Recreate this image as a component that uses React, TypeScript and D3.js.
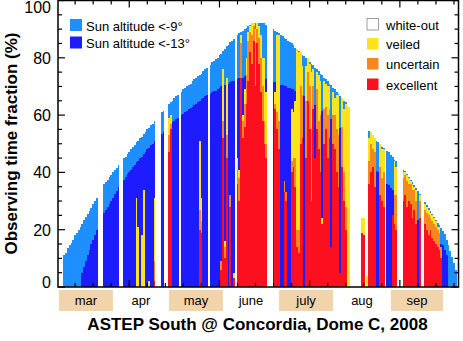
import React from 'react';
import * as d3 from 'd3';

const width = 463;
const height = 341;

// daily fraction (%) of time with the sun below -9 deg and -13 deg, from day 64
const firstDay = 64;
const sunBelow9 = [
  11, 12, 13.5, 14.5, 15.5, 16.5, 18, 19, 20, 21,
  22, 23.5, 24.5, 25.5, 26.5, 27.5, 29, 30, 31, 32.5,
  33.5, 34.5, 36, 36.5, 37.5, 38.5, 39, 40, 41, 41.5,
  42.5, 43, 44, 45, 45.5, 46.5, 47, 48, 49, 49.5,
  50.5, 51, 52, 52.5, 53.5, 54, 55, 55.5, 56.5, 57,
  58, 58.5, 59.5, 60, 61, 61.5, 62.5, 63, 64, 64.5,
  65, 66, 66.5, 67, 67.5, 68, 69, 69.5, 70, 70.5,
  71, 72, 72.5, 73, 73.5, 74, 74.5, 75.5, 76, 76.5,
  77, 77.5, 78.5, 79, 79.5, 80, 81, 81.5, 82.5, 83,
  84, 84.5, 85.5, 86, 86.5, 87, 88, 88.5, 89, 89.5,
  90, 90.5, 91, 91.5, 92, 92, 92, 92, 92, 92,
  92, 92, 91.5, 91.5, 91, 90.5, 90, 89.5, 89, 88.5,
  88, 87.5, 87, 86.5, 86, 85.5, 85, 84.5, 83.5, 83,
  82.5, 82, 81, 80.5, 80, 79.5, 78.5, 78, 77.5, 76.5,
  76, 75.5, 74.5, 74, 73, 72.5, 72, 71, 70.5, 69.5,
  69, 68, 67.5, 66.5, 66, 65, 64.5, 63.5, 63, 62,
  61.5, 60.5, 60, 59, 58, 57.5, 56.5, 56, 55, 54.5,
  54, 53, 52, 51, 50.5, 50, 49, 48.5, 48, 47.5,
  47, 46, 45.5, 44.5, 44, 43, 42.5, 42, 41, 40.5,
  39.5, 38.5, 37.5, 36.5, 35.5, 34.5, 33.5, 32.5, 31.5, 30.5,
  29.5, 28.5, 27.5, 26.5, 25.5, 24.5, 23.5, 22.5, 21.5, 20.5,
  19.5, 18.5, 16.5, 14.5, 12.5, 10.5, 8.5, 6
];
const sunBelow13 = [
  0, 0, 0, 0, 0, 0, 0, 0, 0, 0,
  5, 7, 9, 11, 13, 15, 16.5, 18, 20, 21.5,
  23, 24.5, 26, 27, 28, 29, 30, 31, 32.5, 33.5,
  35, 36, 37, 37.5, 38.5, 39.5, 40, 41, 42, 42.5,
  43.5, 44, 45, 45.5, 46.5, 47, 48, 48.5, 49.5, 50,
  51, 51.5, 52, 53, 53.5, 54, 55, 55.5, 56, 56.5,
  57.5, 58, 58.5, 59, 59.5, 60, 60.5, 61, 61.5, 62,
  62.5, 63, 63.5, 64, 64.5, 65, 65.5, 66, 66.5, 67,
  67, 67.5, 68, 68.5, 68.5, 69, 69.5, 70, 70, 70.5,
  71, 71, 71.5, 72, 72, 72.5, 72.5, 73, 73, 73,
  73.5, 73.5, 73.5, 73.5, 73.5, 73.5, 73.5, 73.5, 73.5, 73,
  73, 73, 72.5, 72.5, 72, 72, 71.5, 71.5, 71, 71,
  70.5, 70.5, 70, 70, 69.5, 69.5, 69, 69, 68.5, 68.5,
  68, 67.5, 67, 66.5, 66, 65.5, 65, 64.5, 64, 63.5,
  63, 62.5, 62, 61.5, 61, 60.5, 60, 59, 58.5, 58,
  57.5, 56.5, 56, 55.5, 54.5, 54, 53, 52.5, 52, 51,
  50.5, 49.5, 49, 48, 47.5, 46.5, 46, 45, 44.5, 43.5,
  43, 42, 41.5, 40.5, 40, 39, 38.5, 37.5, 37, 36,
  35.5, 34.5, 34, 33, 32.5, 31.5, 31, 30, 29.5, 28.5,
  28, 27, 26.5, 25.5, 25, 24, 23.5, 22.5, 22, 21,
  20.5, 19.5, 19, 18, 17.5, 17, 16.5, 16, 15.5, 15,
  14.5, 13, 11, 0, 0, 0, 0, 0
];

// sky quality per night (%), from day 80
const obsFirstDay = 80;
const excellent = [
  0, 0, 0, 0, 0, 0, 0, 0, 0, 0,
  0, 0, 0, 0, 0, 0, 0, 0, 0, 0,
  0, 0, 0, 0, 0, 0, 0, 0, 0, 0,
  0, 0, 0, 0, 2, 0, 0, 0, 0, 0,
  0, 0, 47, 55, 0, 0, 0, 0, 0, 0,
  0, 0, 0, 0, 0, 0, 0, 0, 0, 20,
  19, 0, 0, 0, 0, 0, 0, 0, 0, 0,
  0, 6, 52, 10, 45, 0, 28, 0, 3, 0,
  36, 30, 73, 52, 56, 64, 72, 82, 78, 86,
  70, 85, 78, 68, 58, 50, 45, 0, 0, 0,
  0, 62, 55, 48, 0, 0, 33, 30, 0, 0,
  40, 42, 35, 14, 12, 50, 52, 0, 45, 65,
  55, 30, 62, 45, 55, 48, 40, 22, 50, 55,
  45, 52, 14, 50, 48, 40, 35, 5, 42, 30,
  20, 0, 0, 0, 0, 0, 0, 0, 0, 19,
  18, 0, 0, 36, 40, 42, 35, 0, 0, 32,
  30, 28, 0, 0, 0, 0, 25, 22, 20, 0,
  0, 0, 30, 32, 28, 30, 29, 24, 27, 22,
  0, 24, 0, 0, 22, 20, 18, 20, 17, 16,
  15, 14, 13, 10, 0, 0, 0, 0, 0, 0,
  0, 0
];
const uncertain = [
  0, 0, 0, 0, 0, 0, 0, 0, 0, 0,
  0, 0, 0, 0, 0, 0, 0, 0, 0, 0,
  0, 0, 0, 0, 0, 0, 0, 0, 0, 0,
  0, 0, 0, 0, 7, 0, 0, 0, 0, 0,
  0, 0, 6, 2, 0, 0, 0, 0, 0, 0,
  0, 0, 0, 0, 0, 0, 0, 0, 0, 7,
  4, 0, 0, 0, 0, 0, 0, 0, 0, 0,
  0, 3, 6, 4, 8, 0, 4, 0, 0, 0,
  5, 8, 12, 6, 8, 10, 14, 7, 10, 5,
  15, 5, 9, 12, 12, 8, 5, 0, 0, 0,
  0, 2, 6, 10, 0, 0, 4, 3, 0, 0,
  4, 3, 10, 6, 8, 20, 15, 0, 20, 10,
  15, 25, 8, 0, 14, 10, 20, 0, 12, 8,
  15, 10, 0, 10, 12, 15, 18, 0, 14, 10,
  8, 0, 0, 0, 0, 0, 0, 0, 0, 0,
  0, 0, 0, 8, 10, 6, 12, 0, 0, 10,
  8, 12, 0, 0, 0, 0, 0, 10, 12, 0,
  0, 0, 8, 7, 9, 6, 7, 10, 7, 8,
  0, 6, 0, 0, 5, 6, 7, 4, 6, 6,
  6, 6, 6, 4, 0, 0, 0, 0, 0, 0,
  0, 0
];
const veiled = [
  0, 0, 0, 0, 0, 0, 0, 0, 0, 0,
  0, 0, 0, 0, 0, 0, 0, 0, 0, 0,
  0, 0, 0, 0, 31, 21, 0, 18, 34, 0,
  0, 2, 0, 0, 22, 0, 0, 0, 0, 0,
  0, 0, 6, 3, 0, 0, 0, 0, 0, 0,
  0, 0, 0, 0, 0, 0, 0, 0, 0, 24,
  8, 0, 0, 0, 0, 0, 0, 0, 0, 0,
  0, 0, 18, 2, 20, 0, 0, 0, 2, 0,
  4, 3, 3, 2, 5, 6, 3, 2, 4, 1,
  5, 2, 4, 8, 10, 22, 18, 0, 0, 0,
  0, 4, 27, 30, 0, 0, 0, 0, 0, 0,
  18, 16, 20, 63, 62, 12, 10, 0, 12, 5,
  8, 20, 6, 0, 6, 16, 12, 2, 10, 8,
  10, 8, 0, 8, 6, 12, 14, 0, 10, 22,
  36, 63.5, 63, 0, 0, 0, 0, 0, 0, 5,
  6, 0, 4, 8, 4, 5, 5, 0, 0, 8,
  10, 8, 0, 0, 0, 0, 0, 12, 10, 0,
  0, 0, 2, 1, 2, 2, 1, 2, 1, 4,
  0, 2, 0, 0, 2, 2, 2, 2, 2, 2,
  2, 1, 2, 0, 0, 0, 0, 0, 0, 0,
  0, 0
];
const whiteOut = [
  0, 0, 0, 32.5, 33.5, 34.5, 0, 0, 0, 0,
  0, 0, 0, 0, 0, 43, 44, 0, 0, 0,
  0, 0, 0, 0, 0, 0, 0, 0, 0, 0,
  0, 0, 0, 0, 0, 58.5, 59.5, 60, 0, 0,
  62.5, 63, 0, 0, 0, 0, 0, 0, 67.5, 0,
  0, 0, 0, 0, 0, 0, 0, 0, 0, 0,
  0, 0, 0, 0, 77, 0, 0, 0, 0, 0,
  0, 0, 0, 0, 0, 0, 0, 0, 0, 87,
  0, 0, 0, 0, 0, 0, 0, 0, 0, 0,
  0, 0, 0, 0, 0, 0, 0, 91.5, 91, 90.5,
  0, 0, 0, 0, 0, 0, 0, 0, 0, 0,
  0, 0, 0, 0, 0, 0, 0, 0, 0, 0,
  0, 0, 0, 0, 0, 0, 0, 0, 0, 0,
  0, 0, 0, 0, 0, 0, 0, 0, 0, 0,
  0, 0, 0, 62, 61.5, 60.5, 60, 59, 58, 33.5,
  32.5, 56, 51, 0, 0, 0, 0, 0, 0, 0,
  0, 0, 48, 0, 0, 0, 0, 0, 0, 43,
  42.5, 42, 0, 0, 0, 0, 0, 0, 0, 0,
  0, 0, 31.5, 30.5, 0, 0, 0, 0, 0, 0,
  0, 0, 0, 0, 0, 0, 0, 0, 0, 0,
  0, 0
];

const months = ['mar', 'apr', 'may', 'june', 'july', 'aug', 'sep'];
const monthStartDays = [61, 92, 122, 153, 183, 214, 245, 275];
const shadedMonths = ['mar', 'may', 'july', 'sep'];

const yTicks = [0, 20, 40, 60, 80, 100];
const sunLabels = ['Sun altitude <-9°', 'Sun altitude <-13°'];
const skyLabels = ['white-out', 'veiled', 'uncertain', 'excellent'];

const colors = {
  sun9: '#1e8fff',
  sun13: '#1c1cff',
  excellent: '#fc1020',
  uncertain: '#f8881e',
  veiled: '#fbe41c',
  whiteOut: '#ffffff',
  month: '#f2d4aa'
};

const font = 'Liberation Sans, Arial, Helvetica, sans-serif';

const x = d3.scaleLinear().domain([60.5, 282.5]).range([58, 458.5]);
const y = d3.scaleLinear().domain([0, 100]).range([287, 0.5]);

const bar = (day, from, to, fill, key) => {
  if (to <= from) return null;
  return (
    <rect key={key}
      x={x(day - 0.5)}
      width={x(day + 0.5) - x(day - 0.5)}
      y={y(to)}
      height={y(from) - y(to)}
      fill={fill} />
  );
};

const renderSun = () => {
  return sunBelow9.map((v, i) => {
    const day = firstDay + i;
    return (
      <g key={`sun${day}`}>
        {bar(day, 0, v, colors.sun9, 'a')}
        {bar(day, 0, sunBelow13[i], colors.sun13, 'b')}
      </g>
    );
  });
};

const renderSky = () => {
  return excellent.map((e, i) => {
    const day = obsFirstDay + i;
    const u = e + uncertain[i];
    const v = u + veiled[i];
    const w = v + whiteOut[i];
    return (
      <g key={`sky${day}`}>
        {bar(day, 0, e, colors.excellent, 'e')}
        {bar(day, e, u, colors.uncertain, 'u')}
        {bar(day, u, v, colors.veiled, 'v')}
        {bar(day, v, w, colors.whiteOut, 'w')}
      </g>
    );
  });
};

const renderAxes = () => {
  const left = x.range()[0];
  const right = x.range()[1];
  const top = y.range()[1];
  const bottom = y.range()[0];
  const yMinor = d3.range(0, 101, 5);
  const xMinor = d3.range(70, 281, 10);
  return (
    <g stroke="#000" strokeWidth={1.2}>
      {yMinor.map(v => {
        const len = v % 20 === 0 ? 7 : 4;
        return (
          <g key={`yt${v}`}>
            <line x1={left} x2={left + len} y1={y(v)} y2={y(v)} />
            <line x1={right} x2={right - len} y1={y(v)} y2={y(v)} />
          </g>
        );
      })}
      {xMinor.map(d => {
        const len = d % 50 === 0 ? 7 : 4;
        return (
          <g key={`xt${d}`}>
            <line x1={x(d)} x2={x(d)} y1={bottom} y2={bottom - len} />
            <line x1={x(d)} x2={x(d)} y1={top} y2={top + len} />
          </g>
        );
      })}
      <rect x={left} y={top} width={right - left} height={bottom - top}
        fill="none" strokeWidth={1.5} />
    </g>
  );
};

const renderMonths = () => {
  return months.map((m, i) => {
    const x0 = x(monthStartDays[i] - 0.5) + 1;
    const x1 = x(monthStartDays[i + 1] - 0.5) - 1;
    return (
      <g key={m}>
        {shadedMonths.includes(m) &&
          <rect x={x0} y={290} width={x1 - x0} height={21} fill={colors.month} />}
        <text x={(x0 + x1) / 2} y={304.5} textAnchor="middle" fontSize={13}>{m}</text>
      </g>
    );
  });
};

const renderLegends = () => {
  const skyColors = [colors.whiteOut, colors.veiled, colors.uncertain, colors.excellent];
  const skyTops = [18.5, 38, 58, 78.5];
  return (
    <g fontSize={13}>
      {sunLabels.map((label, i) => (
        <g key={label}>
          <rect x={70} y={19 + i * 17.5} width={12} height={12}
            fill={i === 0 ? colors.sun9 : colors.sun13} />
          <text x={86} y={30.5 + i * 17}>{label}</text>
        </g>
      ))}
      {skyLabels.map((label, i) => (
        <g key={label}>
          <rect x={367} y={skyTops[i]} width={11.5} height={11.5}
            fill={skyColors[i]} stroke={i === 0 ? '#888' : 'none'} strokeWidth={0.8} />
          <text x={386} y={skyTops[i] + 11}>{label}</text>
        </g>
      ))}
    </g>
  );
};

// tick label baselines; the end labels are nudged to stay inside the picture
const tickLabelY = (v) => {
  if (v === 0) return y(v) + 1;
  if (v === 100) return 12.5;
  return y(v) + 6;
};

export default function App() {
  return (
    <svg width={width} height={height} fontFamily={font}
      style={{ position: 'absolute', left: 0, top: 0, background: '#fff' }}>
      <g shapeRendering="crispEdges">
        {renderSun()}
        {renderSky()}
      </g>
      {renderAxes()}
      <g fontSize={16} textAnchor="end">
        {yTicks.map(v => (
          <text key={v} x={51} y={tickLabelY(v)}>{v}</text>
        ))}
      </g>
      {renderMonths()}
      {renderLegends()}
      <text transform="translate(17,143.5)rotate(-90)" textAnchor="middle"
        fontSize={17} fontWeight="bold">Observing time fraction (%)</text>
      <text x={257.5} y={330} textAnchor="middle" fontSize={17} fontWeight="bold">
        ASTEP South @ Concordia, Dome C, 2008
      </text>
    </svg>
  );
}
